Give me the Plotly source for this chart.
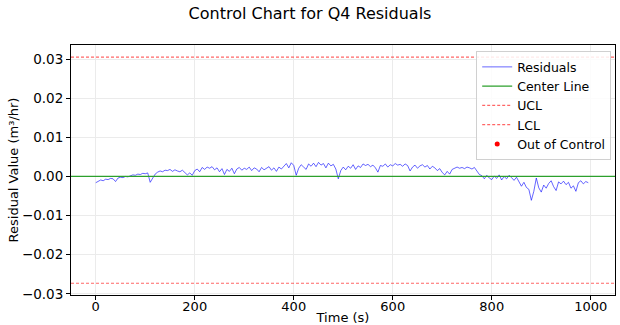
import plotly.graph_objects as go

time_s = list(range(0, 1000, 5))
residuals = [
    -0.0016, -0.0012, -0.0009, -0.0011, -0.0007, -0.0008, -0.0005, -0.0006, -0.0013, -0.0004,
    -0.0002, -0.0003, 0.0000, -0.0001, 0.0002, 0.0004, 0.0003, 0.0006, 0.0005, 0.0008,
    0.0007, 0.0009, -0.0015, -0.0004, 0.0006, 0.0011, 0.0014, 0.0012, 0.0016, 0.0015,
    0.0018, 0.0013, 0.0017, 0.0014, 0.0012, 0.0016, 0.0011, 0.0004, 0.0009, 0.0003,
    0.0015, 0.0019, 0.0012, 0.0023, 0.0018, 0.0024, 0.0021, 0.0025, 0.0017, 0.0022,
    0.0012, 0.0020, 0.0005, 0.0018, 0.0013, 0.0021, 0.0007, 0.0019, 0.0023, 0.0016,
    0.0021, 0.0018, 0.0024, 0.0015, 0.0022, 0.0019, 0.0012, 0.0023, 0.0017, 0.0021,
    0.0025, 0.0016, 0.0022, 0.0013, 0.0024, 0.0019, 0.0027, 0.0033, 0.0022, 0.0035,
    0.0028, 0.0003, 0.0021, 0.0030, 0.0024, 0.0018, 0.0032, 0.0026, 0.0034, 0.0025,
    0.0036, 0.0029, 0.0033, 0.0022, 0.0034, 0.0027, 0.0031, 0.0019, -0.0006, 0.0015,
    0.0024, 0.0017, 0.0026, 0.0021, 0.0030, 0.0018, 0.0027, 0.0023, 0.0032, 0.0028,
    0.0031, 0.0025, 0.0029, 0.0022, 0.0011, 0.0028, 0.0026, 0.0032, 0.0024, 0.0030,
    0.0027, 0.0033, 0.0029, 0.0031, 0.0026, 0.0032, 0.0028, 0.0014, 0.0024, 0.0029,
    0.0021, 0.0027, 0.0030, 0.0024, 0.0028, 0.0019, 0.0026, 0.0022, 0.0015, 0.0020,
    0.0010, 0.0004, 0.0013, 0.0006, 0.0018, 0.0022, 0.0024, 0.0021, 0.0023, 0.0020,
    0.0024, 0.0022, 0.0019, 0.0023, 0.0015, 0.0005, 0.0002, -0.0006, 0.0003, -0.0004,
    -0.0008, 0.0001, -0.0005, 0.0004, -0.0009, 0.0000, -0.0006, 0.0003, -0.0003, -0.0010,
    -0.0002, -0.0012, -0.0025, -0.0015, -0.0028, -0.0033, -0.0061, -0.0038, -0.0004, -0.0029,
    -0.0040, -0.0022, -0.0030, -0.0018, -0.0011, -0.0026, -0.0036, -0.0014, -0.0019, -0.0012,
    -0.0021, -0.0015, -0.0030, -0.0024, -0.0038, -0.0016, -0.0011, -0.0019, -0.0013, -0.0016,
]
center_line = 0.0
ucl = 0.0305
lcl = -0.0273
x_span = [-50, 1049]
y_ticks = [-0.03, -0.02, -0.01, 0.0, 0.01, 0.02, 0.03]
x_ticks = [0, 200, 400, 600, 800, 1000]

fig = go.Figure()
fig.add_trace(go.Scatter(x=time_s, y=residuals, mode="lines", name="Residuals",
                         line=dict(color="rgba(0,0,255,0.6)", width=1)))
fig.add_trace(go.Scatter(x=x_span, y=[center_line, center_line], mode="lines", name="Center Line",
                         line=dict(color="#2ca02c", width=1.3)))
fig.add_trace(go.Scatter(x=x_span, y=[ucl, ucl], mode="lines", name="UCL",
                         line=dict(color="rgba(255,0,0,0.6)", width=1.1, dash="3px,2px")))
fig.add_trace(go.Scatter(x=x_span, y=[lcl, lcl], mode="lines", name="LCL",
                         line=dict(color="rgba(255,0,0,0.6)", width=1.1, dash="3px,2px")))
fig.add_trace(go.Scatter(x=[None], y=[None], mode="markers", name="Out of Control",
                         marker=dict(color="red", size=5)))

font = "DejaVu Sans, Arial, sans-serif"
fig.update_layout(
    width=620, height=325,
    margin=dict(l=71, r=5, t=45, b=30),
    paper_bgcolor="white", plot_bgcolor="white",
    font=dict(family=font, size=13, color="black"),
    title=dict(text="Control Chart for Q4 Residuals", x=0.5, xref="container", xanchor="center",
               y=0.975, yref="container", yanchor="top", font=dict(size=16, color="black"),
               automargin=False),
    legend=dict(x=0.993, y=0.975, xanchor="right", yanchor="top",
                bgcolor="rgba(255,255,255,0.85)", bordercolor="#d0d0d0", borderwidth=1,
                font=dict(size=12.5), tracegroupgap=0, itemwidth=30),
    showlegend=True,
)
fig.update_xaxes(range=[-50, 1049], tickvals=x_ticks, showline=True, mirror=True, automargin=False,
                 linecolor="black", linewidth=1, ticks="outside", ticklen=4, tickcolor="black",
                 showgrid=True, gridcolor="#ebebeb", gridwidth=1, zeroline=False,
                 tickfont=dict(size=13), ticklabelstandoff=-5,
                 title=dict(text="Time (s)", standoff=2, font=dict(size=13)))
fig.update_yaxes(range=[-0.0303, 0.0336], tickvals=y_ticks, tickformat=".2f", showline=True, mirror=True,
                 automargin=False,
                 linecolor="black", linewidth=1, ticks="outside", ticklen=4, tickcolor="black",
                 showgrid=True, gridcolor="#ebebeb", gridwidth=1, zeroline=False,
                 tickfont=dict(size=13.5),
                 title=dict(text="Residual Value (m³/hr)", standoff=0, font=dict(size=13)))

fig.write_html("out.html")
